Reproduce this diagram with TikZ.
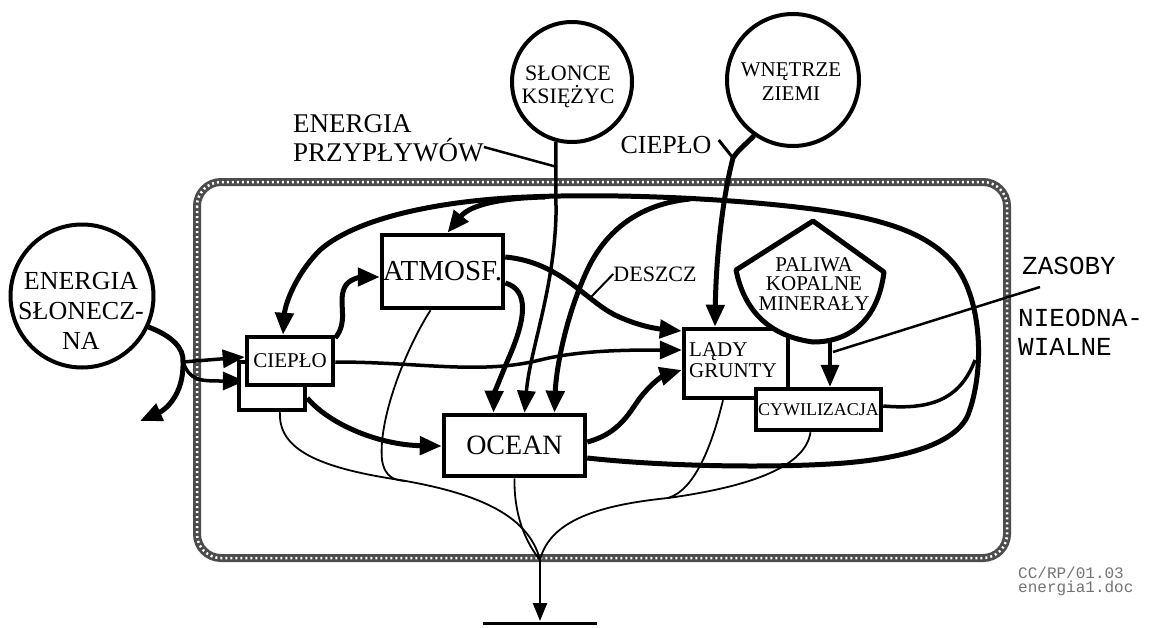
\documentclass[tikz,border=0pt]{standalone}
\usepackage{fontspec}
\setmainfont{Liberation Serif}
\newfontfamily\monof{Liberation Mono}
\usetikzlibrary{arrows.meta,calc}
\pgfdeclarelayer{background}
\pgfsetlayers{background,main}
\newcommand{\fsz}[2]{\fontsize{#1}{#2}\selectfont}
\begin{document}
\begin{tikzpicture}[x=1pt,y=-1pt,
  bx/.style={draw, line width=4.5pt, fill=white, inner sep=0pt},
  circ/.style={draw, circle, line width=4pt, fill=white, inner sep=0pt},
  lbl/.style={inner sep=0pt},
  thk/.style={line width=5pt, line join=round},
  med/.style={line width=3.5pt, line join=round},
  thn/.style={line width=1.8pt},
  arr/.style={-{Triangle[length=22pt,width=18pt]}},
  sarr/.style={-{Triangle[length=18pt,width=14pt]}},
]
\useasboundingbox (0,0) rectangle (1149,627);

% ---------- nodes ----------
\node[circ, minimum size=143pt] (sun) at (82,296) {};
\node[circ, minimum size=120pt] (moon) at (572,82) {};
\node[circ, minimum size=132pt] (earth) at (793,80) {};
\node[bx, minimum width=66pt, minimum height=48pt] (cieplsh) at (272,386) {};
\node[bx, minimum width=86pt, minimum height=48pt, font=\fsz{21}{21}] (ciepl) at (290,361) {CIEPŁO};
\node[bx, minimum width=121pt, minimum height=73pt, font=\fsz{29}{29}] (atm) at (442.5,271.5) {ATMOSF.};
\node[bx, minimum width=141pt, minimum height=61pt, font=\fsz{28}{28}] (ocean) at (514.5,445.5) {OCEAN};
\node[bx, minimum width=104pt, minimum height=69pt] (lady) at (736,363.5) {};
\node[lbl, font=\fsz{21}{21}, align=left, anchor=west] (ladyt) at (689,360) {LĄDY\\GRUNTY};
\draw[line width=5pt, fill=white, line join=round] (813,221) -- (736,270) .. controls (742,300) and (760,335) .. (813,342) .. controls (850,342) and (878,320) .. (884,272) -- cycle;
\coordinate (palbot) at (830,341);
\node[lbl, font=\fsz{21}{19.5}, align=center] (pal) at (814,284) {PALIWA\\KOPALNE\\MINERAŁY};
\node[bx, minimum width=125pt, minimum height=41pt, font=\fsz{18}{18}] (cyw) at (818.5,409.5) {CYWILIZACJA};

% texts
\node[lbl, font=\fsz{26}{30}, align=center] (sunt) at (81,311) {ENERGIA\\SŁONECZ-\\NA};
\node[lbl, font=\fsz{22}{23}, align=center] (moont) at (568,87) {SŁONCE\\KSIĘŻYC};
\node[lbl, font=\fsz{21}{24}, align=center] (eartht) at (791,82) {WNĘTRZE\\ZIEMI};
\node[lbl, font=\fsz{27}{29}, align=left, anchor=west] (tide) at (293,138) {ENERGIA\\PRZYPŁYWÓW};
\node[lbl, font=\fsz{26}{26}] (heat) at (666,145) {CIEPŁO};
\node[lbl, font=\fsz{22}{22}] (rain) at (655,274) {DESZCZ};
\node[lbl, font=\monof\fsz{26}{26}, anchor=west] (zas) at (1022,266) {ZASOBY};
\node[lbl, font=\monof\fsz{26}{29}, align=left, anchor=west] (nieod) at (1018,332) {NIEODNA-\\WIALNE};
\node[lbl, font=\monof\fsz{16}{16}, anchor=base west, text=black!55] (doc1) at (1018,578) {CC/RP/01.03};
\node[lbl, font=\monof\fsz{16}{16}, anchor=base west, text=black!55] (doc2) at (1018,592) {energia1.doc};

\coordinate (J) at (183,362);
\coordinate (sunout) at (140,421);
\coordinate (G) at (540,560);
\coordinate (gnd) at (540,623);
\coordinate (m1) at (405,481);
\coordinate (m2) at (668,498);
\coordinate (hk) at (733,158);
\coordinate (zasp) at (1040,287);
\coordinate (zase) at (833,352);
\coordinate (tidee) at (557,167);
\coordinate (raine) at (591,297);

\begin{pgfonlayer}{background}
% boundary chain
\draw[line width=8pt, black!70, rounded corners=24pt] (197,182) rectangle (1007,558);
\draw[line width=2.5pt, white, dash pattern=on 2pt off 3pt, rounded corners=24pt] (197,182) rectangle (1007,558);

% solar energy
\draw[thk] (sun.-25) .. controls (172,336) and (184,348) .. (J);
\draw[med, arr] (J) -- (ciepl.west |- 0,357);
\draw[med, arr] (J) .. controls (190,381) and (200,381) .. (ciepl.west |- 0,381);
\draw[thk, arr] (J) .. controls (184,395) and (165,410) .. (sunout);

% big loop
\draw[thk, arr] (ocean.east |- 0,458) .. controls (660,466) and (760,468) .. (830,464)
  .. controls (900,460) and (955,445) .. (968,415)
  .. controls (985,370) and (982,300) .. (955,265)
  .. controls (930,235) and (890,220) .. (820,210)
  .. controls (740,199) and (620,193) .. (527,197)
  .. controls (450,200) and (360,215) .. (320,250)
  .. controls (295,275) and (285,305) .. ([xshift=-7pt]ciepl.north);
\draw[med] (cyw.east |- 0,406) .. controls (930,410) and (960,400) .. (975,360);
\draw[thk, arr] (545,197) .. controls (500,198) and (470,205) .. ([xshift=5pt]atm.north);
\draw[thk, arr] (690,199) .. controls (630,205) and (600,240) .. (585,275) .. controls (565,320) and (556,370) .. ([xshift=40pt]ocean.north);

% tides
\draw[med, arr] (moon.255) -- (556,215) .. controls (554,290) and (530,350) .. ([xshift=10pt]ocean.north);
\draw[line width=2.5pt] (tide.east |- 0,147) -- (tidee);

% atmosphere
\draw[thk, arr] (atm.east |- 0,283) .. controls (530,290) and (525,320) .. (510,355) .. controls (500,378) and (494,395) .. ([xshift=-21pt]ocean.north);
\draw[thk, arr] (atm.east |- 0,257) .. controls (560,262) and (585,300) .. (615,315) .. controls (640,327) and (660,329) .. (lady.west |- 0,331);
\draw[med, arr] (ciepl.east |- 0,362) .. controls (420,362) and (480,375) .. (540,360) .. controls (580,350) and (630,350) .. (lady.west |- 0,350);
\draw[thk, arr] (ocean.east |- 0,442) .. controls (625,432) and (632,405) .. (645,392) .. controls (655,380) and (665,375) .. (lady.west |- 0,370);
\draw[thk, arr] (ciepl.east |- 0,338) .. controls (350,320) and (336,300) .. (346,285) .. controls (352,277) and (365,277) .. (atm.west |- 0,277);
\draw[thk, arr] (cieplsh.east |- 0,398) .. controls (330,425) and (380,445) .. (ocean.west |- 0,446);
\draw[line width=2pt] (raine) -- (rain.west);

% earth heat
\draw[thk, arr] (earth.235) .. controls (745,145) and (738,150) .. (hk) .. controls (722,200) and (716,260) .. ([xshift=-21pt]lady.north);
\draw[line width=3pt] (heat.east) ++(7pt,5pt) coordinate (hks) -- (hk);

% fossil fuels
\draw[med, arr] (palbot) -- (cyw.north -| palbot);
\draw[line width=2.5pt] (zasp) -- (zase);

% dissipation to ground
\draw[thn] ([xshift=8pt]cieplsh.south) .. controls (278,450) and (320,468) .. (400,480) .. controls (470,492) and (528,512) .. (G);
\draw[thn] ([xshift=-12pt]atm.south) .. controls (405,350) and (378,420) .. (382,460) .. controls (385,478) and (395,480) .. (m1);
\draw[thn] (ocean.south) .. controls (514,505) and (520,535) .. (G);
\draw[thn] ([xshift=-13pt]lady.south) .. controls (712,445) and (695,490) .. (m2) .. controls (600,505) and (550,520) .. (G);
\draw[thn] ([xshift=-8pt]cyw.south) .. controls (805,470) and (740,488) .. (m2);
\draw[line width=2.5pt, sarr] (G) -- ([yshift=2pt]gnd);
\draw[line width=3pt] ([xshift=-57pt]gnd) -- ([xshift=57pt]gnd);
\end{pgfonlayer}
\end{tikzpicture}
\end{document}
